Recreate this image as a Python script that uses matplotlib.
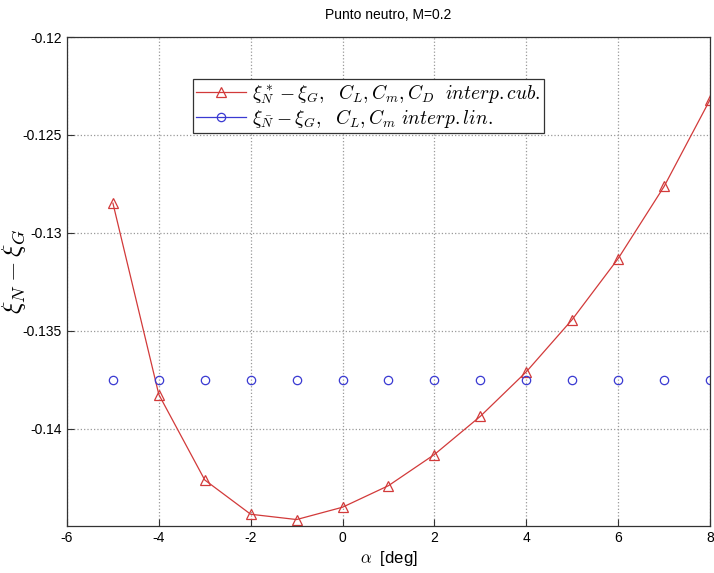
import numpy as np
import matplotlib
matplotlib.use("Agg")
import matplotlib.pyplot as plt
from matplotlib.lines import Line2D

plt.rcParams['mathtext.fontset'] = 'cm'
plt.rcParams['font.family'] = ['Liberation Sans', 'DejaVu Sans']

# datos
alfa = [-5, -4, -3, -2, -1, 0, 1, 2, 3, 4, 5, 6, 7, 8]
xi_cub = [-0.12848, -0.13825, -0.14261, -0.14436, -0.14463, -0.14400,
          -0.14290, -0.14131, -0.13936, -0.13709, -0.13442, -0.13131,
          -0.12763, -0.12320]
xi_lin = [-0.13750] * len(alfa)

rojo = '#d23a3a'
azul = '#3a3ad2'

fig = plt.figure(figsize=(7.14, 5.73), dpi=100)
ax = fig.add_axes([0.0938, 0.082, 0.9006, 0.8534])

ax.plot(alfa, xi_cub, color=rojo, lw=0.9, marker='^', ms=6.5,
        mfc='none', mec=rojo, mew=0.9)
ax.plot(alfa, xi_lin, lw=0, marker='o', ms=6,
        mfc='none', mec=azul, mew=0.9)

# la leyenda lleva linea en ambas entradas
h1 = Line2D([], [], color=rojo, lw=0.9, marker='^', ms=6.5, mfc='none', mec=rojo, mew=0.9)
h2 = Line2D([], [], color=azul, lw=0.9, marker='o', ms=6, mfc='none', mec=azul, mew=0.9)
etiquetas = [r'$\xi^*_N - \xi_G,\ \ C_L, C_m, C_D\ \ interp.cub.$',
             r'$\xi_{\bar{N}} - \xi_G,\ \ C_L, C_m\ interp.lin.$']

ax.set_xlim(-6, 8)
ax.set_ylim(-0.14496, -0.12)
ax.set_xticks(np.arange(-6, 9, 2))
ax.set_yticks([-0.14, -0.135, -0.13, -0.125, -0.12])
ax.set_yticklabels(['-0.14', '-0.135', '-0.13', '-0.125', '-0.12'])
ax.set_xticklabels([str(v) for v in range(-6, 9, 2)])
ax.tick_params(direction='in', labelsize=10, length=5, color='#333333')
for s in ax.spines.values():
    s.set_color('#333333')
    s.set_linewidth(0.9)

ax.grid(True, linestyle=':', color='#999999', lw=0.9)

ax.set_title('Punto neutro, M=0.2', fontsize=10, pad=13)
ax.set_xlabel(r'$\alpha$  [deg]', fontsize=12, labelpad=3)
ax.set_ylabel(r'$\xi_N - \xi_G$', fontsize=19)
ax.yaxis.set_label_coords(-0.06, 0.52)

leg = ax.legend([h1, h2], etiquetas, loc='upper left',
                bbox_to_anchor=(193 / 714, 1 - 79 / 573),
                bbox_transform=fig.transFigure, fontsize=14, fancybox=False,
                framealpha=1, edgecolor='#333333', borderpad=0.15,
                handlelength=2.6, handletextpad=0.3, labelspacing=0.05,
                borderaxespad=0)
leg.get_frame().set_linewidth(0.9)

fig.savefig('out.png', dpi=100)
